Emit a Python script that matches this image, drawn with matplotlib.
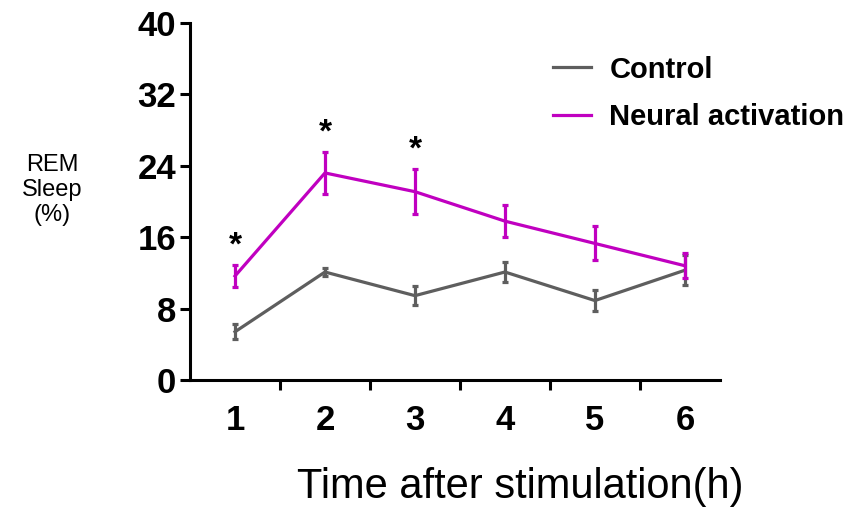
import matplotlib
matplotlib.use("Agg")
import matplotlib.pyplot as plt
from matplotlib.lines import Line2D

plt.rcParams['font.family'] = ['Liberation Sans', 'DejaVu Sans']

hours = [1, 2, 3, 4, 5, 6]
control = [5.4, 12.1, 9.45, 12.1, 8.9, 12.3]
control_err = [0.85, 0.45, 1.1, 1.1, 1.2, 1.7]
neural = [11.65, 23.2, 21.1, 17.8, 15.3, 12.8]
neural_err = [1.2, 2.35, 2.5, 1.8, 1.9, 1.4]
star_hours = [1, 2, 3]
yticks = [0, 8, 16, 24, 32, 40]

gray = '#5e5e5e'
mag = '#C000C0'

fig = plt.figure(figsize=(8.54, 5.16), dpi=100)
ax = fig.add_axes([190/854, 1-380/516, (720-190)/854, (380-23)/516])

ax.errorbar(hours, control, yerr=control_err, color=gray, lw=2.3, capsize=2.5,
            capthick=2.3, elinewidth=2.3, zorder=3)
ax.errorbar(hours, neural, yerr=neural_err, color=mag, lw=2.3, capsize=2.5,
            capthick=2.3, elinewidth=2.3, zorder=4)

for h in star_hours:
    i = hours.index(h)
    ax.text(h, neural[i] + neural_err[i] + 0.4, '*', ha='center', va='bottom',
            fontsize=24, fontweight='bold')

ax.set_xlim(0.5, 6.39)
ax.set_ylim(0, 40)
ax.set_yticks(yticks)
ax.set_yticklabels([str(v) for v in yticks], fontsize=25, fontweight='bold')
ax.set_xticks([h + 0.5 for h in hours[:-1]])
ax.set_xticklabels([])
ax.set_xticks(hours, minor=True)
ax.set_xticklabels([str(h) for h in hours], minor=True, fontsize=25, fontweight='bold')
ax.tick_params(axis='x', which='minor', length=0, pad=17)
ax.tick_params(axis='both', which='major', width=2.2, length=7, direction='out')
ax.tick_params(axis='y', pad=3)

for s in ['top', 'right']:
    ax.spines[s].set_visible(False)
for s in ['left', 'bottom']:
    ax.spines[s].set_linewidth(2.2)

fig.text(520/854, 1-487/516, 'Time after stimulation(h)', ha='center',
         va='center', fontsize=30)
fig.text(52/854, 1-190/516, 'REM\nSleep\n(%)', ha='center', va='center',
         fontsize=17, linespacing=1.15)

handles = [Line2D([], [], color=gray, lw=2.3), Line2D([], [], color=mag, lw=2.3)]
leg = ax.legend(handles, ['Control', 'Neural activation'], loc='upper left',
                bbox_to_anchor=(538/854, 1-41/516),
                bbox_transform=fig.transFigure, frameon=False,
                prop={'weight': 'bold', 'size': 21}, handlelength=1.3,
                handletextpad=0.65, labelspacing=0.68, borderpad=0)

fig.savefig('out.png', dpi=100)
